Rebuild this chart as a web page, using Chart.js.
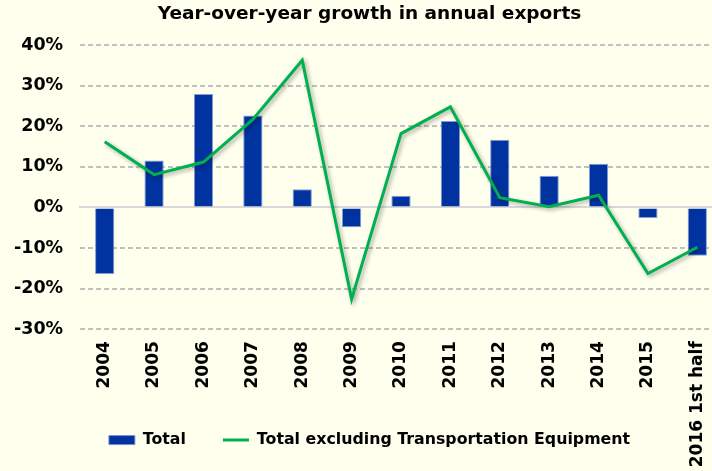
<!DOCTYPE html>
<html>
<head>
<meta charset="utf-8">
<script src="https://cdn.jsdelivr.net/npm/chart.js@4.4.1/dist/chart.umd.min.js"></script>
<style>
  html, body { margin: 0; padding: 0; background: #FFFFEE; overflow: hidden; }
  /* the excel chart is a bit wider than the picture, right side is cut */
  #wrap { width: 738px; height: 471px; }
</style>
</head>
<body>
<div id="wrap"><canvas id="canvasexports" width="738" height="471"></canvas></div>
<script>

var years = ["2004", "2005", "2006", "2007", "2008", "2009", "2010", "2011", "2012", "2013", "2014", "2015", "2016 1st half"];
var total = [-16.4, 11.6, 28.0, 22.7, 4.5, -4.9, 2.9, 21.3, 16.7, 7.8, 10.8, -2.6, -11.9];
var totalExTransport = [16.2, 8.1, 11.2, 21.7, 36.3, -22.6, 18.2, 24.8, 2.4, 0.2, 3.0, -16.3, -9.8];
var yTicks = [-30, -20, -10, 0, 10, 20, 30, 40];

function init_chart_exports(){

	if( typeof (Chart) === 'undefined'){ return; }

	var fontName = "'DejaVu Sans', Verdana, sans-serif";

	// green line gets a soft drop shadow like the excel one
	var lineShadow = {
		id: 'lineShadow',
		beforeDatasetDraw: function(chart, args){
			if (args.index !== 1) { return; }
			var ctx = chart.ctx;
			ctx.save();
			ctx.shadowColor = 'rgba(0, 0, 0, 0.35)';
			ctx.shadowBlur = 4;
			ctx.shadowOffsetX = 2;
			ctx.shadowOffsetY = 2;
		},
		afterDatasetDraw: function(chart, args){
			if (args.index !== 1) { return; }
			chart.ctx.restore();
		}
	};

	var chart_settings = {
		type: 'bar',
		data: {
			labels: years,
			datasets: [{
				type: 'bar',
				label: 'Total',
				data: total,
				backgroundColor: '#0033A0',
				borderColor: 'rgba(120, 145, 205, 0.9)',
				borderWidth: 1,
				barPercentage: 0.39,
				categoryPercentage: 1,
				order: 2
			}, {
				type: 'line',
				label: 'Total excluding Transportation Equipment',
				data: totalExTransport,
				borderColor: '#00B050',
				backgroundColor: '#00B050',
				borderWidth: 3,
				pointRadius: 0,
				tension: 0,
				order: 1
			}]
		},
		options: {
			responsive: false,
			animation: false,
			layout: { padding: { left: 17, right: 16, top: 0, bottom: 13 } },
			plugins: {
				title: {
					display: true,
					text: 'Year-over-year growth in annual exports',
					color: '#000',
					font: { family: fontName, size: 18.5, weight: 'bold' },
					padding: { top: 3, bottom: 20 }
				},
				legend: {
					position: 'bottom',
					labels: {
						color: '#000',
						font: { family: fontName, size: 15.8, weight: 'bold' },
						usePointStyle: true,
						pointStyleWidth: 26,
						boxHeight: 9,
						padding: 37,
						sort: function(a, b){ return a.datasetIndex - b.datasetIndex; },
						generateLabels: function(chart){
							var items = Chart.defaults.plugins.legend.labels.generateLabels(chart);
							items.forEach(function(item){
								item.pointStyle = item.datasetIndex === 0 ? 'rect' : 'line';
							});
							return items;
						}
					}
				},
				tooltip: { enabled: false }
			},
			scales: {
				// data axis: only reserves the room below the plot
				x: {
					type: 'category',
					position: 'bottom',
					grid: { display: false },
					border: { display: false },
					ticks: { display: false },
					afterFit: function(scale){ scale.height = 66; }
				},
				// solid zero line
				x0: {
					type: 'category',
					axis: 'x',
					position: { y: 0 },
					grid: { display: false },
					ticks: { display: false },
					border: { display: true, color: '#D9D9D9', width: 2 }
				},
				// category labels under the -30% line (not clipped, so the long last one fits)
				xl: {
					type: 'category',
					axis: 'x',
					position: { y: -30 },
					grid: { display: false },
					border: { display: false },
					ticks: {
						color: '#000',
						font: { family: fontName, size: 17, weight: 'bold' },
						minRotation: 90,
						maxRotation: 90,
						autoSkip: false,
						padding: 4
					}
				},
				y: {
					min: -30,
					max: 40,
					afterBuildTicks: function(scale){
						scale.ticks = yTicks.map(function(v){ return { value: v }; });
					},
					grid: {
						drawTicks: false,
						lineWidth: 2,
						color: function(c){ return c.tick && c.tick.value === 0 ? 'rgba(0,0,0,0)' : '#C0C0C0'; }
					},
					border: { display: false, dash: [5, 3] },
					// mirrored + negative padding = right aligned labels left of the plot, without clipping
					ticks: {
						color: '#000',
						font: { family: fontName, size: 17.5, weight: 'bold' },
						mirror: true,
						crossAlign: 'far',
						padding: -66,
						callback: function(v){ return v + '%'; }
					},
					afterFit: function(scale){ scale.width = 63; }
				}
			}
		},
		plugins: [lineShadow]
	};

	var chart_element = document.getElementById('canvasexports');
	var chart_exports = new Chart(chart_element, chart_settings);
}

init_chart_exports();
</script>
</body>
</html>
